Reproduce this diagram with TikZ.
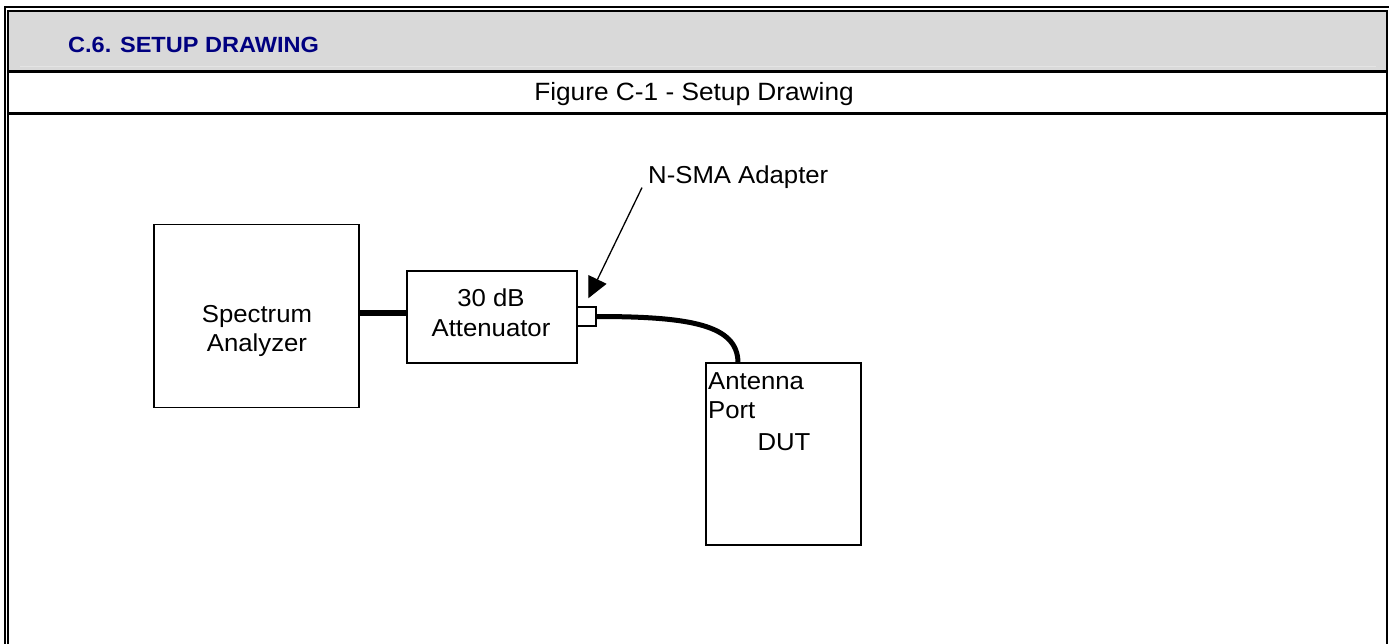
\documentclass[tikz,border=0pt]{standalone}
\usepackage{fontspec}
\setmainfont{Liberation Sans}
\newfontfamily\widefont[FakeStretch=1.05]{Liberation Sans}
\newfontfamily\headfont[FakeStretch=1.07]{Liberation Sans}
\usetikzlibrary{arrows.meta,calc}
\definecolor{navyhead}{RGB}{0,0,128}
\definecolor{headgray}{RGB}{217,217,217}
\definecolor{headline}{RGB}{228,228,228}
\begin{document}
\begin{tikzpicture}[x=1pt,y=-1pt,
  box/.style={draw, line width=1.5pt, inner sep=0pt, outer sep=0pt},
  lbl/.style={font=\widefont\fontsize{24.5}{29.5}\selectfont, inner sep=0pt},
  frameline/.style={line width=2pt},
  rule/.style={line width=3pt},
  cable/.style={line width=5pt},
  thickcable/.style={line width=6pt},
  pointer/.style={line width=1.3pt, -{Triangle[length=21pt,width=20pt]}}
]
\useasboundingbox (0,0) rectangle (1389,644);
% header band and frame
\fill[headgray] (9,12) rectangle (1386,70);
\draw[headline, line width=1pt] (20,67) -- (1376,67);
\draw[frameline] (5,645) -- (5,7.5) -- (1390,7.5);
\draw[frameline] (8,645) -- (8,11) -- (1387,11) -- (1387,645);
\draw[rule] (8,71.5) -- (1387,71.5);
\draw[rule] (8,113.5) -- (1387,113.5);
\node[anchor=base west, inner sep=0pt, text=navyhead,
      font=\headfont\bfseries\fontsize{22}{26}\selectfont] (head) at (68,53) {C.6. SETUP DRAWING};
\node[anchor=base, inner sep=0pt, font=\widefont\fontsize{25}{29}\selectfont] (fig) at (694,100.3) {Figure C-1 - Setup Drawing};
% boxes
\node[box, minimum width=205pt, minimum height=183pt] (sa) at (256.5,316) {};
\node[box, minimum width=170pt, minimum height=92pt] (att) at (492,317) {};
\node[box, minimum width=19pt, minimum height=19pt] (adp) at (586.5,316.5) {};
\node[box, minimum width=155pt, minimum height=182pt] (dut) at (783.5,454) {};
% texts
\node[lbl, anchor=base] (sat1) at (257,322) {Spectrum};
\node[lbl, anchor=base] (sat2) at (257,351.7) {Analyzer};
\node[lbl, anchor=base] (att1) at (491,306.7) {30 dB};
\node[lbl, anchor=base] (att2) at (491,336.7) {Attenuator};
\node[lbl, anchor=base west] (ant1) at (708,389) {Antenna};
\node[lbl, anchor=base west] (ant2) at (708,418.3) {Port};
\node[lbl, anchor=base] (dutt) at (784,450) {DUT};
\node[lbl, anchor=base west] (nsma) at (648,183.3) {N-SMA Adapter};
% connectors
\draw[thickcable] ($(sa.east |- att.west)+(0,-4)$) -- ($(att.west)+(0,-4)$);
\coordinate (dutport) at ($(dut.north west)+(32,0)$);
\draw[cable] (adp.east) .. controls +(95,0) and +(0,-38) .. (dutport);
\coordinate (tip) at (588.3,298.3);
\draw[pointer] ($(nsma.south west)+(-6,-1)$) -- (tip);
\end{tikzpicture}
\end{document}
